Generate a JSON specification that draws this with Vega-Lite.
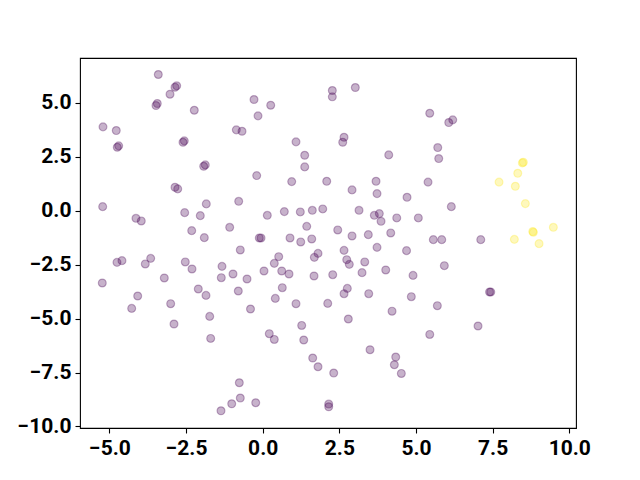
{
  "$schema": "https://vega.github.io/schema/vega-lite/v6.json",
  "autosize": "none",
  "width": 496,
  "height": 370,
  "padding": {"left": 80, "top": 58, "right": 64, "bottom": 52},
  "background": "white",
  "config": {
    "view": {"stroke": "black", "strokeWidth": 1.1},
    "axis": {
      "grid": false,
      "domain": false,
      "tickColor": "black",
      "tickSize": 5,
      "tickWidth": 1.1,
      "labelFont": "Roboto",
      "labelFontWeight": "bold",
      "labelFontSize": 21,
      "labelColor": "black",
      "labelPadding": 4,
      "title": null
    }
  },
  "data": {
    "values": [
      {"x": -3.406, "y": 6.305, "c": 0},
      {"x": -2.806, "y": 5.781, "c": 0},
      {"x": -2.861, "y": 5.716, "c": 0},
      {"x": -3.024, "y": 5.392, "c": 0},
      {"x": -3.439, "y": 4.961, "c": 0},
      {"x": -3.481, "y": 4.868, "c": 0},
      {"x": -2.232, "y": 4.650, "c": 0},
      {"x": -5.210, "y": 3.880, "c": 0},
      {"x": -4.777, "y": 3.709, "c": 0},
      {"x": -4.698, "y": 3.000, "c": 0},
      {"x": -4.744, "y": 2.935, "c": 0},
      {"x": -0.861, "y": 3.741, "c": 0},
      {"x": -0.675, "y": 3.676, "c": 0},
      {"x": -2.558, "y": 3.231, "c": 0},
      {"x": -2.600, "y": 3.166, "c": 0},
      {"x": -1.873, "y": 2.119, "c": 0},
      {"x": -1.925, "y": 2.054, "c": 0},
      {"x": -2.861, "y": 1.080, "c": 0},
      {"x": -2.773, "y": 1.006, "c": 0},
      {"x": -0.284, "y": 5.146, "c": 0},
      {"x": 2.271, "y": 5.563, "c": 0},
      {"x": 2.271, "y": 5.271, "c": 0},
      {"x": 3.021, "y": 5.702, "c": 0},
      {"x": 0.261, "y": 4.882, "c": 0},
      {"x": -0.153, "y": 4.390, "c": 0},
      {"x": 1.086, "y": 3.185, "c": 0},
      {"x": 2.653, "y": 3.398, "c": 0},
      {"x": 2.610, "y": 3.166, "c": 0},
      {"x": 1.370, "y": 2.564, "c": 0},
      {"x": 1.370, "y": 2.026, "c": 0},
      {"x": 4.111, "y": 2.582, "c": 0},
      {"x": -0.196, "y": 1.623, "c": 0},
      {"x": 0.946, "y": 1.344, "c": 0},
      {"x": 2.088, "y": 1.358, "c": 0},
      {"x": 3.697, "y": 1.358, "c": 0},
      {"x": 2.914, "y": 0.960, "c": 0},
      {"x": 5.449, "y": 4.511, "c": 0},
      {"x": 6.199, "y": 4.205, "c": 0},
      {"x": 6.069, "y": 4.080, "c": 0},
      {"x": 5.710, "y": 2.921, "c": 0},
      {"x": 5.742, "y": 2.411, "c": 0},
      {"x": 5.393, "y": 1.321, "c": 0},
      {"x": 4.708, "y": 0.617, "c": 0},
      {"x": 6.153, "y": 0.185, "c": 0},
      {"x": 5.077, "y": -0.338, "c": 0},
      {"x": 5.566, "y": -1.344, "c": 0},
      {"x": 5.840, "y": -1.344, "c": 0},
      {"x": 7.113, "y": -1.344, "c": 0},
      {"x": 4.692, "y": -1.854, "c": 0},
      {"x": 5.925, "y": -2.550, "c": 0},
      {"x": 4.904, "y": -3.000, "c": 0},
      {"x": 7.439, "y": -3.769, "c": 0},
      {"x": 7.400, "y": -3.769, "c": 0},
      {"x": 4.848, "y": -3.987, "c": 0},
      {"x": 5.697, "y": -4.404, "c": 0},
      {"x": 3.729, "y": 0.788, "c": 0},
      {"x": 0.150, "y": -0.218, "c": 0},
      {"x": 0.705, "y": -0.046, "c": 0},
      {"x": 1.227, "y": -0.060, "c": 0},
      {"x": 1.618, "y": 0.014, "c": 0},
      {"x": 1.958, "y": 0.079, "c": 0},
      {"x": 3.142, "y": 0.014, "c": 0},
      {"x": 3.641, "y": -0.218, "c": 0},
      {"x": 3.804, "y": -0.139, "c": 0},
      {"x": 3.860, "y": -0.496, "c": 0},
      {"x": 4.372, "y": -0.338, "c": 0},
      {"x": 1.436, "y": -0.728, "c": 0},
      {"x": 2.447, "y": -0.895, "c": 0},
      {"x": 2.914, "y": -1.173, "c": 0},
      {"x": 3.445, "y": -1.113, "c": 0},
      {"x": 4.176, "y": -1.034, "c": 0},
      {"x": -0.111, "y": -1.266, "c": 0},
      {"x": -0.055, "y": -1.266, "c": 0},
      {"x": 0.891, "y": -1.266, "c": 0},
      {"x": 1.240, "y": -1.451, "c": 0},
      {"x": 1.599, "y": -1.312, "c": 0},
      {"x": 3.729, "y": -1.701, "c": 0},
      {"x": 2.653, "y": -1.841, "c": 0},
      {"x": 1.804, "y": -1.980, "c": 0},
      {"x": 1.684, "y": -2.165, "c": 0},
      {"x": 0.522, "y": -2.133, "c": 0},
      {"x": 0.378, "y": -2.443, "c": 0},
      {"x": 2.741, "y": -2.272, "c": 0},
      {"x": 2.825, "y": -2.490, "c": 0},
      {"x": 3.328, "y": -2.378, "c": 0},
      {"x": 0.042, "y": -2.796, "c": 0},
      {"x": 0.620, "y": -2.796, "c": 0},
      {"x": 0.858, "y": -2.935, "c": 0},
      {"x": 1.674, "y": -3.027, "c": 0},
      {"x": 2.284, "y": -2.967, "c": 0},
      {"x": 3.240, "y": -2.874, "c": 0},
      {"x": 4.013, "y": -2.749, "c": 0},
      {"x": -0.512, "y": -3.166, "c": 0},
      {"x": 0.639, "y": -3.570, "c": 0},
      {"x": 2.760, "y": -3.602, "c": 0},
      {"x": 2.653, "y": -3.848, "c": 0},
      {"x": 3.458, "y": -3.848, "c": 0},
      {"x": 0.411, "y": -4.066, "c": 0},
      {"x": 1.086, "y": -4.312, "c": 0},
      {"x": 2.121, "y": -4.298, "c": 0},
      {"x": 4.219, "y": -4.659, "c": 0},
      {"x": -0.398, "y": -4.557, "c": 0},
      {"x": -5.220, "y": 0.185, "c": 0},
      {"x": -1.840, "y": 0.311, "c": 0},
      {"x": -0.783, "y": 0.431, "c": 0},
      {"x": -2.545, "y": -0.093, "c": 0},
      {"x": -2.036, "y": -0.232, "c": 0},
      {"x": -4.134, "y": -0.357, "c": 0},
      {"x": -3.961, "y": -0.478, "c": 0},
      {"x": -2.316, "y": -0.927, "c": 0},
      {"x": -1.905, "y": -1.252, "c": 0},
      {"x": -1.077, "y": -0.774, "c": 0},
      {"x": -0.731, "y": -1.822, "c": 0},
      {"x": -4.754, "y": -2.397, "c": 0},
      {"x": -4.591, "y": -2.318, "c": 0},
      {"x": -3.830, "y": -2.471, "c": 0},
      {"x": -3.654, "y": -2.211, "c": 0},
      {"x": -2.525, "y": -2.378, "c": 0},
      {"x": -2.307, "y": -2.703, "c": 0},
      {"x": -1.328, "y": -2.582, "c": 0},
      {"x": -1.351, "y": -3.106, "c": 0},
      {"x": -0.969, "y": -2.935, "c": 0},
      {"x": -3.210, "y": -3.120, "c": 0},
      {"x": -5.233, "y": -3.352, "c": 0},
      {"x": -2.101, "y": -3.630, "c": 0},
      {"x": -1.850, "y": -3.927, "c": 0},
      {"x": -0.796, "y": -3.723, "c": 0},
      {"x": -4.078, "y": -3.955, "c": 0},
      {"x": -3.002, "y": -4.312, "c": 0},
      {"x": -4.274, "y": -4.529, "c": 0},
      {"x": -1.729, "y": -4.900, "c": 0},
      {"x": -2.894, "y": -5.253, "c": 0},
      {"x": -1.697, "y": -5.920, "c": 0},
      {"x": -0.763, "y": -7.974, "c": 0},
      {"x": -0.731, "y": -8.683, "c": 0},
      {"x": -1.011, "y": -8.948, "c": 0},
      {"x": -1.361, "y": -9.272, "c": 0},
      {"x": 2.793, "y": -5.021, "c": 0},
      {"x": 1.272, "y": -5.318, "c": 0},
      {"x": 0.215, "y": -5.702, "c": 0},
      {"x": 0.378, "y": -5.967, "c": 0},
      {"x": 1.338, "y": -5.994, "c": 0},
      {"x": 3.501, "y": -6.444, "c": 0},
      {"x": 4.339, "y": -6.783, "c": 0},
      {"x": 4.294, "y": -7.140, "c": 0},
      {"x": 4.522, "y": -7.543, "c": 0},
      {"x": 1.631, "y": -6.829, "c": 0},
      {"x": 1.804, "y": -7.232, "c": 0},
      {"x": 2.316, "y": -7.524, "c": 0},
      {"x": -0.228, "y": -8.901, "c": 0},
      {"x": 2.153, "y": -8.962, "c": 0},
      {"x": 2.153, "y": -9.087, "c": 0},
      {"x": 7.024, "y": -5.345, "c": 0},
      {"x": 5.449, "y": -5.735, "c": 0},
      {"x": 8.502, "y": 2.239, "c": 1},
      {"x": 8.470, "y": 2.211, "c": 1},
      {"x": 8.320, "y": 1.729, "c": 1},
      {"x": 7.710, "y": 1.321, "c": 1},
      {"x": 8.241, "y": 1.127, "c": 1},
      {"x": 8.568, "y": 0.325, "c": 1},
      {"x": 8.209, "y": -1.331, "c": 1},
      {"x": 8.829, "y": -1.006, "c": 1},
      {"x": 8.810, "y": -0.970, "c": 1},
      {"x": 9.481, "y": -0.774, "c": 1},
      {"x": 9.015, "y": -1.530, "c": 1}
    ]
  },
  "mark": {
    "type": "circle",
    "size": 62,
    "fillOpacity": 0.3,
    "strokeOpacity": 0.3,
    "strokeWidth": 1.2
  },
  "encoding": {
    "x": {
      "field": "x",
      "type": "quantitative",
      "scale": {"domain": [-5.96, 10.22], "nice": false, "zero": false},
      "axis": {"values": [-5, -2.5, 0, 2.5, 5, 7.5, 10], "format": ".1f"}
    },
    "y": {
      "field": "y",
      "type": "quantitative",
      "scale": {"domain": [-10.07, 7.07], "nice": false, "zero": false},
      "axis": {"values": [-10, -7.5, -5, -2.5, 0, 2.5, 5], "format": ".1f"}
    },
    "color": {
      "field": "c",
      "type": "quantitative",
      "scale": {"domain": [0, 1], "range": ["#440154", "#fde725"]},
      "legend": null
    },
    "stroke": {
      "field": "c",
      "type": "quantitative",
      "scale": {"domain": [0, 1], "range": ["#440154", "#fde725"]},
      "legend": null
    }
  }
}
